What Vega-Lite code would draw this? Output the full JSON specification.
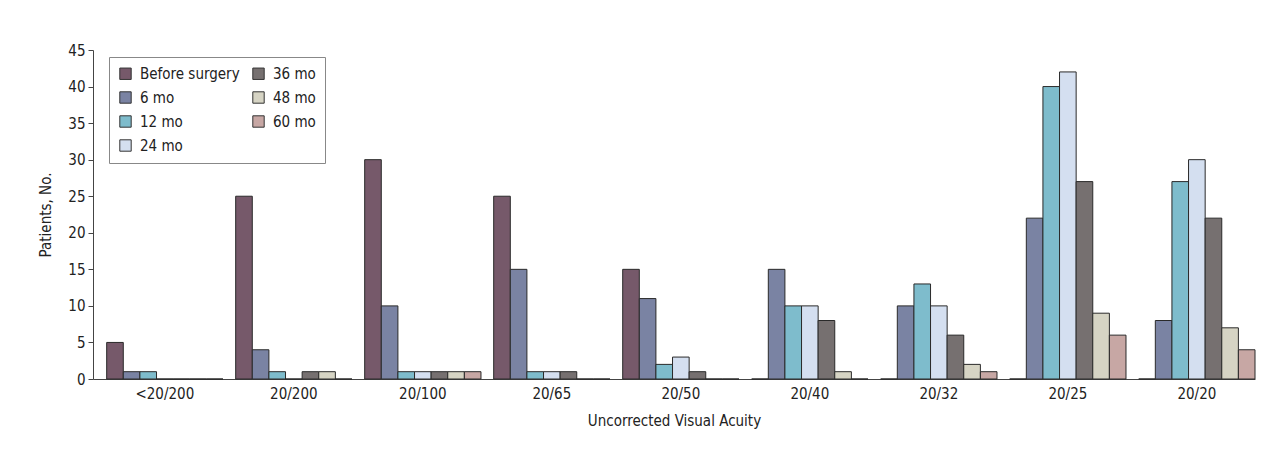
{
  "$schema": "https://vega.github.io/schema/vega-lite/v6.json",
  "width": 1162,
  "height": 329,
  "autosize": {"type": "none"},
  "padding": {"left": 93, "top": 50, "right": 21, "bottom": 74},
  "background": "white",
  "config": {
    "view": {"stroke": null},
    "font": "Liberation Sans Narrow, DejaVu Sans Condensed, sans-serif",
    "axis": {"labelFont": "Liberation Sans Narrow, DejaVu Sans Condensed, sans-serif", "titleFont": "Liberation Sans Narrow, DejaVu Sans Condensed, sans-serif", "labelColor": "#222", "titleColor": "#222", "domainColor": "#444", "tickColor": "#444", "grid": false, "labelFontSize": 15, "titleFontSize": 15, "titleFontWeight": "normal"},
    "legend": {"labelFont": "Liberation Sans Narrow, DejaVu Sans Condensed, sans-serif"}
  },
  "data": {
    "values": [
      {"acuity": "<20/200", "time": "Before surgery", "n": 5},
      {"acuity": "<20/200", "time": "6 mo", "n": 1},
      {"acuity": "<20/200", "time": "12 mo", "n": 1},
      {"acuity": "<20/200", "time": "24 mo", "n": 0},
      {"acuity": "<20/200", "time": "36 mo", "n": 0},
      {"acuity": "<20/200", "time": "48 mo", "n": 0},
      {"acuity": "<20/200", "time": "60 mo", "n": 0},
      {"acuity": "20/200", "time": "Before surgery", "n": 25},
      {"acuity": "20/200", "time": "6 mo", "n": 4},
      {"acuity": "20/200", "time": "12 mo", "n": 1},
      {"acuity": "20/200", "time": "24 mo", "n": 0},
      {"acuity": "20/200", "time": "36 mo", "n": 1},
      {"acuity": "20/200", "time": "48 mo", "n": 1},
      {"acuity": "20/200", "time": "60 mo", "n": 0},
      {"acuity": "20/100", "time": "Before surgery", "n": 30},
      {"acuity": "20/100", "time": "6 mo", "n": 10},
      {"acuity": "20/100", "time": "12 mo", "n": 1},
      {"acuity": "20/100", "time": "24 mo", "n": 1},
      {"acuity": "20/100", "time": "36 mo", "n": 1},
      {"acuity": "20/100", "time": "48 mo", "n": 1},
      {"acuity": "20/100", "time": "60 mo", "n": 1},
      {"acuity": "20/65", "time": "Before surgery", "n": 25},
      {"acuity": "20/65", "time": "6 mo", "n": 15},
      {"acuity": "20/65", "time": "12 mo", "n": 1},
      {"acuity": "20/65", "time": "24 mo", "n": 1},
      {"acuity": "20/65", "time": "36 mo", "n": 1},
      {"acuity": "20/65", "time": "48 mo", "n": 0},
      {"acuity": "20/65", "time": "60 mo", "n": 0},
      {"acuity": "20/50", "time": "Before surgery", "n": 15},
      {"acuity": "20/50", "time": "6 mo", "n": 11},
      {"acuity": "20/50", "time": "12 mo", "n": 2},
      {"acuity": "20/50", "time": "24 mo", "n": 3},
      {"acuity": "20/50", "time": "36 mo", "n": 1},
      {"acuity": "20/50", "time": "48 mo", "n": 0},
      {"acuity": "20/50", "time": "60 mo", "n": 0},
      {"acuity": "20/40", "time": "Before surgery", "n": 0},
      {"acuity": "20/40", "time": "6 mo", "n": 15},
      {"acuity": "20/40", "time": "12 mo", "n": 10},
      {"acuity": "20/40", "time": "24 mo", "n": 10},
      {"acuity": "20/40", "time": "36 mo", "n": 8},
      {"acuity": "20/40", "time": "48 mo", "n": 1},
      {"acuity": "20/40", "time": "60 mo", "n": 0},
      {"acuity": "20/32", "time": "Before surgery", "n": 0},
      {"acuity": "20/32", "time": "6 mo", "n": 10},
      {"acuity": "20/32", "time": "12 mo", "n": 13},
      {"acuity": "20/32", "time": "24 mo", "n": 10},
      {"acuity": "20/32", "time": "36 mo", "n": 6},
      {"acuity": "20/32", "time": "48 mo", "n": 2},
      {"acuity": "20/32", "time": "60 mo", "n": 1},
      {"acuity": "20/25", "time": "Before surgery", "n": 0},
      {"acuity": "20/25", "time": "6 mo", "n": 22},
      {"acuity": "20/25", "time": "12 mo", "n": 40},
      {"acuity": "20/25", "time": "24 mo", "n": 42},
      {"acuity": "20/25", "time": "36 mo", "n": 27},
      {"acuity": "20/25", "time": "48 mo", "n": 9},
      {"acuity": "20/25", "time": "60 mo", "n": 6},
      {"acuity": "20/20", "time": "Before surgery", "n": 0},
      {"acuity": "20/20", "time": "6 mo", "n": 8},
      {"acuity": "20/20", "time": "12 mo", "n": 27},
      {"acuity": "20/20", "time": "24 mo", "n": 30},
      {"acuity": "20/20", "time": "36 mo", "n": 22},
      {"acuity": "20/20", "time": "48 mo", "n": 7},
      {"acuity": "20/20", "time": "60 mo", "n": 4}
    ]
  },
  "mark": {"type": "bar", "stroke": "#2a2a2a", "strokeWidth": 1},
  "encoding": {
    "x": {
      "field": "acuity", "type": "nominal",
      "sort": ["<20/200", "20/200", "20/100", "20/65", "20/50", "20/40", "20/32", "20/25", "20/20"],
      "scale": {"paddingInner": 0.0985, "paddingOuter": 0.053, "align": 1},
      "axis": {"title": "Uncorrected Visual Acuity", "labelAngle": 0, "ticks": false, "labelPadding": 7, "titlePadding": 12}
    },
    "xOffset": {
      "field": "time", "type": "nominal",
      "sort": ["Before surgery", "6 mo", "12 mo", "24 mo", "36 mo", "48 mo", "60 mo"],
      "scale": {"paddingInner": 0, "paddingOuter": 0}
    },
    "y": {
      "field": "n", "type": "quantitative",
      "scale": {"domain": [0, 45], "nice": false},
      "axis": {"title": "Patients, No.", "values": [0, 5, 10, 15, 20, 25, 30, 35, 40, 45], "tickSize": 5, "labelPadding": 3, "titlePadding": 14}
    },
    "color": {
      "field": "time", "type": "nominal",
      "scale": {
        "domain": ["Before surgery", "6 mo", "12 mo", "24 mo", "36 mo", "48 mo", "60 mo"],
        "range": ["#76596a", "#7a83a3", "#7ebccc", "#d4dff0", "#767070", "#d6d4c4", "#c7a7a4"]
      },
      "legend": {
        "title": null,
        "orient": "none",
        "legendX": 16,
        "legendY": 7,
        "columns": 2,
        "columnPadding": 10,
        "rowPadding": 7,
        "padding": 9,
        "strokeColor": "#888",
        "fillColor": "white",
        "symbolType": "square",
        "symbolSize": 130,
        "symbolStrokeColor": "#333",
        "symbolStrokeWidth": 1,
        "symbolOpacity": 1,
        "labelFontSize": 15,
        "labelColor": "#222",
        "labelOffset": 7
      }
    }
  }
}
